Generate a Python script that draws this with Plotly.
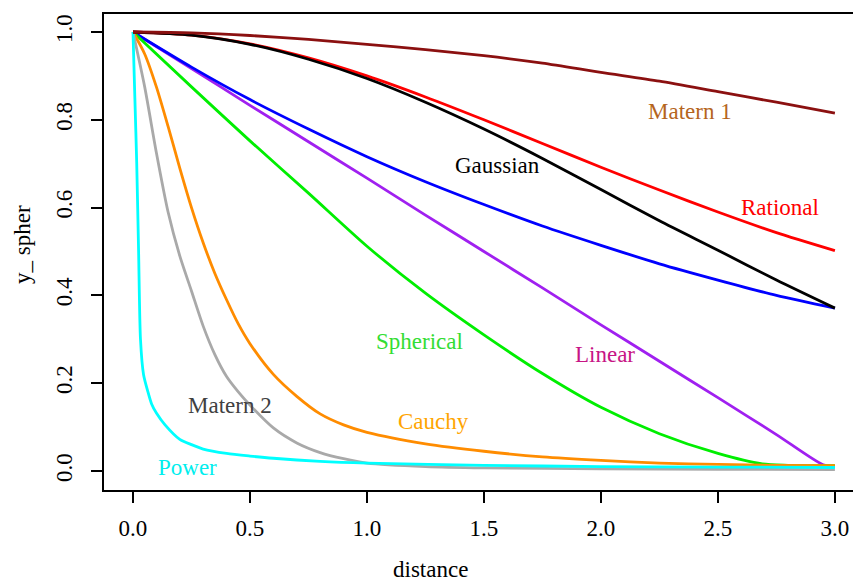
import plotly.graph_objects as go

# ---- data ----
d13 = [0, 0.25, 0.5, 0.75, 1.0, 1.25, 1.5, 1.75, 2.0, 2.25, 2.5, 2.75, 3.0]

matern1_v = [1.0, 0.998, 0.992, 0.983, 0.972, 0.960, 0.946, 0.929, 0.908, 0.888, 0.864, 0.840, 0.815]
gauss_v = [1.0, 0.993, 0.972, 0.938, 0.894, 0.840, 0.779, 0.712, 0.641, 0.570, 0.503, 0.435, 0.371]
rational_v = [1.0, 0.993, 0.973, 0.941, 0.900, 0.852, 0.800, 0.746, 0.692, 0.640, 0.590, 0.543, 0.502]
expo_v = [1.0, 0.920, 0.846, 0.779, 0.716, 0.659, 0.607, 0.558, 0.514, 0.472, 0.435, 0.400, 0.371]

linear_d = [0, 0.25, 0.5, 0.75, 1.0, 1.25, 1.5, 1.75, 2.0, 2.25, 2.5, 2.75, 2.95, 3.0]
linear_v = [1.0, 0.917, 0.833, 0.750, 0.667, 0.583, 0.500, 0.417, 0.333, 0.250, 0.167, 0.083, 0.014, 0.010]

spher_d = [0, 0.25, 0.5, 0.75, 1.0, 1.25, 1.5, 1.75, 2.0, 2.25, 2.5, 2.69, 2.8, 3.0]
spher_v = [1.0, 0.875, 0.752, 0.633, 0.512, 0.405, 0.310, 0.222, 0.145, 0.085, 0.040, 0.016, 0.013, 0.012]

cauchy_d = [0, 0.05, 0.1, 0.15, 0.2, 0.25, 0.3, 0.35, 0.4, 0.45, 0.5, 0.6, 0.7, 0.8, 0.9,
            1.0, 1.25, 1.5, 1.75, 2.0, 2.25, 2.5, 2.75, 3.0]
cauchy_v = [1.0, 0.950, 0.875, 0.785, 0.690, 0.600, 0.520, 0.450, 0.390, 0.335, 0.290, 0.220,
            0.170, 0.130, 0.105, 0.088, 0.062, 0.045, 0.032, 0.024, 0.018, 0.015, 0.013, 0.012]

matern2_d = [0, 0.05, 0.1, 0.15, 0.2, 0.25, 0.3, 0.35, 0.4, 0.45, 0.5, 0.6, 0.7, 0.8, 0.9, 1.0,
             1.25, 1.5, 2.0, 2.5, 3.0]
matern2_v = [1.0, 0.875, 0.725, 0.590, 0.490, 0.410, 0.330, 0.265, 0.215, 0.180, 0.150, 0.098,
             0.064, 0.042, 0.028, 0.018, 0.010, 0.007, 0.005, 0.004, 0.003]

power_d = [0, 0.008, 0.016, 0.024, 0.032, 0.045, 0.064, 0.08, 0.1, 0.137, 0.2, 0.25, 0.3, 0.4,
           0.5, 0.6, 0.8, 1.0, 1.5, 2.0, 2.5, 3.0]
power_v = [1.0, 0.85, 0.70, 0.50, 0.30, 0.22, 0.18, 0.152, 0.132, 0.105, 0.072, 0.060, 0.050,
           0.040, 0.034, 0.029, 0.022, 0.018, 0.013, 0.010, 0.009, 0.008]

x_ticks = [0.0, 0.5, 1.0, 1.5, 2.0, 2.5, 3.0]
x_tick_text = ["0.0", "0.5", "1.0", "1.5", "2.0", "2.5", "3.0"]
y_ticks = [0.0, 0.2, 0.4, 0.6, 0.8, 1.0]
y_tick_text = ["0.0", "0.2", "0.4", "0.6", "0.8", "1.0"]

# labels: (text, x, y, colour)
labels = [
    ("Matern 1", 2.38, 0.818, "#b5651d"),
    ("Rational", 2.765, 0.600, "#ff0000"),
    ("Gaussian", 1.556, 0.695, "#000000"),
    ("Spherical", 1.226, 0.294, "#33dd33"),
    ("Linear", 2.017, 0.265, "#c71585"),
    ("Cauchy", 1.286, 0.113, "#ffa500"),
    ("Matern 2", 0.415, 0.150, "#404040"),
    ("Power", 0.235, 0.008, "#00eeee"),
]

series = [
    ("Linear", linear_d, linear_v, "#a020f0"),
    ("Exponential", d13, expo_v, "#0000ff"),
    ("Spherical", spher_d, spher_v, "#00ee00"),
    ("Cauchy", cauchy_d, cauchy_v, "#ff8c00"),
    ("Matern 2", matern2_d, matern2_v, "#a9a9a9"),
    ("Power", power_d, power_v, "#00ffff"),
    ("Rational", d13, rational_v, "#ff0000"),
    ("Gaussian", d13, gauss_v, "#000000"),
    ("Matern 1", d13, matern1_v, "#8b1010"),
]

FONT = "Liberation Serif, Times New Roman, Times, serif"
FS = 23

# page body has an 8px margin, so the figure is drawn at (8, 8) on screen
W, H = 853, 575
L, T = 96, 6           # plot area left/top in figure coords (screen 104, 14)
PW, PH = 755, 476      # plot area size

fig = go.Figure()
for name, xs, ys, col in series:
    fig.add_trace(go.Scatter(x=xs, y=ys, mode="lines", name=name,
                             line=dict(color=col, width=2.8, shape="spline", smoothing=0.7),
                             showlegend=False))

for text, x, y, col in labels:
    fig.add_annotation(x=x, y=y, xref="x", yref="y", text=text, showarrow=False,
                       xanchor="center", yanchor="middle",
                       font=dict(family=FONT, size=FS, color=col))

# screen px -> paper coords
def px_x(p):
    return (p - 8 - L) / PW

def px_y(p):
    return (T + PH - (p - 8)) / PH

fig.add_annotation(x=px_x(430), y=px_y(569), xref="paper", yref="paper",
                   text="distance", showarrow=False, xanchor="center", yanchor="middle",
                   font=dict(family=FONT, size=FS, color="#000"))
fig.add_annotation(x=px_x(22), y=px_y(245), xref="paper", yref="paper",
                   text="y_ spher", textangle=-90, showarrow=False,
                   xanchor="center", yanchor="middle",
                   font=dict(family=FONT, size=FS, color="#000"))

axis_common = dict(showgrid=False, zeroline=False, showline=True, linecolor="#000",
                   linewidth=1.5, mirror=True, ticks="outside", ticklen=11, tickwidth=1.5,
                   tickcolor="#000", automargin=False,
                   tickfont=dict(family=FONT, size=FS, color="#000"))

fig.update_xaxes(range=[-0.1239, 3.103], tickvals=x_ticks, ticktext=x_tick_text,
                 ticklabelstandoff=6, **axis_common)
fig.update_yaxes(range=[-0.0433, 1.041], tickvals=y_ticks, ticktext=y_tick_text,
                 tickangle=-90, ticklabelstandoff=10, **axis_common)

fig.update_layout(width=W, height=H,
                  margin=dict(l=L, r=W - L - PW, t=T, b=H - T - PH, autoexpand=False),
                  paper_bgcolor="white", plot_bgcolor="white")

fig.write_html("out.html")
